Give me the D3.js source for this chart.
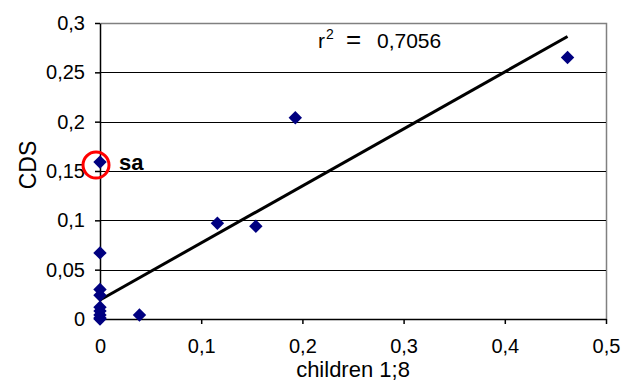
<!DOCTYPE html>
<html>
<head>
<meta charset="utf-8">
<script src="https://cdn.jsdelivr.net/npm/d3@7"></script>
<style>
  body { margin: 0; background: #fff; }
  text { font-family: "Liberation Sans", Arial, sans-serif; }
</style>
</head>
<body>
<div id="wrapper"></div>
<script>
// data
const childrenValues = [0.462, 0.193, 0.116, 0.154, 0.039, 0, 0, 0, 0, 0, 0, 0, 0, 0];
const cdsValues = [0.265, 0.204, 0.097, 0.094, 0.004, 0.159, 0.067, 0.030, 0.024, 0.012, 0.008, 0.004, 0.001, 0];
const xTicks = [0, 0.1, 0.2, 0.3, 0.4, 0.5];
const yTicks = [0, 0.05, 0.1, 0.15, 0.2, 0.25, 0.3];
const trendIntercept = 0.0193;
const trendSlope = 0.578;
const trendRange = [0, 0.462];
const rSquared = "0,7056";
const highlightIndex = 5;
const highlightLabel = "sa";

function drawChart() {
    const dataset = childrenValues.map((x, i) => ({x: x, y: cdsValues[i]}));
    const xAccessor = d => d.x;
    const yAccessor = d => d.y;
    const fmt = v => String(v).replace('.', ',');

    //2. dimensions
    const dimensions = {
        width: 623,
        height: 383,
        margin: {top: 23, right: 17, bottom: 64, left: 100}
    };
    dimensions.boundedWidth = dimensions.width - dimensions.margin.left - dimensions.margin.right;
    dimensions.boundedHeight = dimensions.height - dimensions.margin.top - dimensions.margin.bottom;

    //3. canvas
    const wrapper = d3.select('#wrapper')
        .append('svg')
        .attr('width', dimensions.width)
        .attr('height', dimensions.height);
    const bounds = wrapper.append('g')
        .attr('transform', `translate(${dimensions.margin.left},${dimensions.margin.top})`);

    //4. scales
    const xScale = d3.scaleLinear()
        .domain([0, 0.5])
        .range([0, dimensions.boundedWidth]);
    const yScale = d3.scaleLinear()
        .domain([0, 0.3])
        .range([dimensions.boundedHeight, 0]);

    // plot border (top / right) and gridlines
    bounds.append('path')
        .attr('d', `M0.5,0.5H${dimensions.boundedWidth + 0.5}V${dimensions.boundedHeight}`)
        .attr('fill', 'none')
        .attr('stroke', '#808080')
        .attr('stroke-width', 1.5);
    bounds.selectAll('.grid')
        .data(yTicks.filter(t => t > 0 && t < 0.3))
        .join('line')
        .attr('class', 'grid')
        .attr('x1', 0)
        .attr('x2', dimensions.boundedWidth)
        .attr('y1', d => Math.round(yScale(d)) + 0.5)
        .attr('y2', d => Math.round(yScale(d)) + 0.5)
        .attr('stroke', '#000')
        .attr('stroke-width', 1);

    //6. axes
    const xAxisGenerator = d3.axisBottom(xScale)
        .tickValues(xTicks)
        .tickFormat(fmt)
        .tickSizeInner(5)
        .tickSizeOuter(0)
        .tickPadding(15);
    const xAxis = bounds.append('g')
        .attr('transform', `translate(0,${dimensions.boundedHeight})`)
        .call(xAxisGenerator);
    const yAxisGenerator = d3.axisLeft(yScale)
        .tickValues(yTicks)
        .tickFormat(fmt)
        .tickSizeInner(5)
        .tickSizeOuter(0)
        .tickPadding(10);
    const yAxis = bounds.append('g')
        .call(yAxisGenerator);
    [xAxis, yAxis].forEach(a => {
        a.selectAll('path, line').attr('stroke', '#000').attr('stroke-width', 1.5);
        a.selectAll('text')
            .attr('fill', '#000')
            .style('font-size', '20px')
            .style('font-family', '"Liberation Sans", Arial, sans-serif');
    });

    xAxis.append('text')
        .attr('x', dimensions.boundedWidth / 2)
        .attr('y', 58)
        .attr('fill', '#000')
        .style('font-size', '22px')
        .style('text-anchor', 'middle')
        .text('children 1;8');
    yAxis.append('text')
        .attr('transform', 'rotate(-90)')
        .attr('x', -142)
        .attr('y', -64)
        .attr('fill', '#000')
        .style('font-size', '23px')
        .style('text-anchor', 'middle')
        .text('CDS');

    // trend line
    const trendLine = d3.line()
        .x(d => xScale(d))
        .y(d => yScale(trendIntercept + trendSlope * d));
    bounds.append('path')
        .datum(trendRange)
        .attr('d', trendLine)
        .attr('fill', 'none')
        .attr('stroke', '#000')
        .attr('stroke-width', 3);

    //5. points
    const marker = d3.symbol().type(d3.symbolSquare).size(90);
    bounds.selectAll('.dot')
        .data(dataset)
        .join('path')
        .attr('class', 'dot')
        .attr('d', marker)
        .attr('transform', d => `translate(${xScale(xAccessor(d))},${yScale(yAccessor(d))}) rotate(45)`)
        .attr('fill', '#000080');

    // highlighted point
    const hp = dataset[highlightIndex];
    bounds.append('circle')
        .attr('cx', xScale(hp.x) - 4)
        .attr('cy', yScale(hp.y) + 3)
        .attr('r', 13)
        .attr('fill', 'none')
        .attr('stroke', '#ff0000')
        .attr('stroke-width', 3);
    bounds.append('text')
        .attr('x', xScale(hp.x) + 19)
        .attr('y', yScale(hp.y) + 8)
        .attr('fill', '#000')
        .style('font-size', '22px')
        .style('font-weight', 'bold')
        .text(highlightLabel);

    // r squared label
    const rLabel = bounds.append('text')
        .attr('y', 25)
        .attr('fill', '#000')
        .style('font-size', '21px');
    rLabel.append('tspan').attr('x', 218).text('r');
    rLabel.append('tspan').attr('x', 226).attr('dy', -9).style('font-size', '14px').text('2');
    rLabel.append('tspan').attr('x', 246).attr('dy', 9).style('font-size', '26px').text('=');
    rLabel.append('tspan').attr('x', 277).text(rSquared);
}

drawChart();
</script>
</body>
</html>
